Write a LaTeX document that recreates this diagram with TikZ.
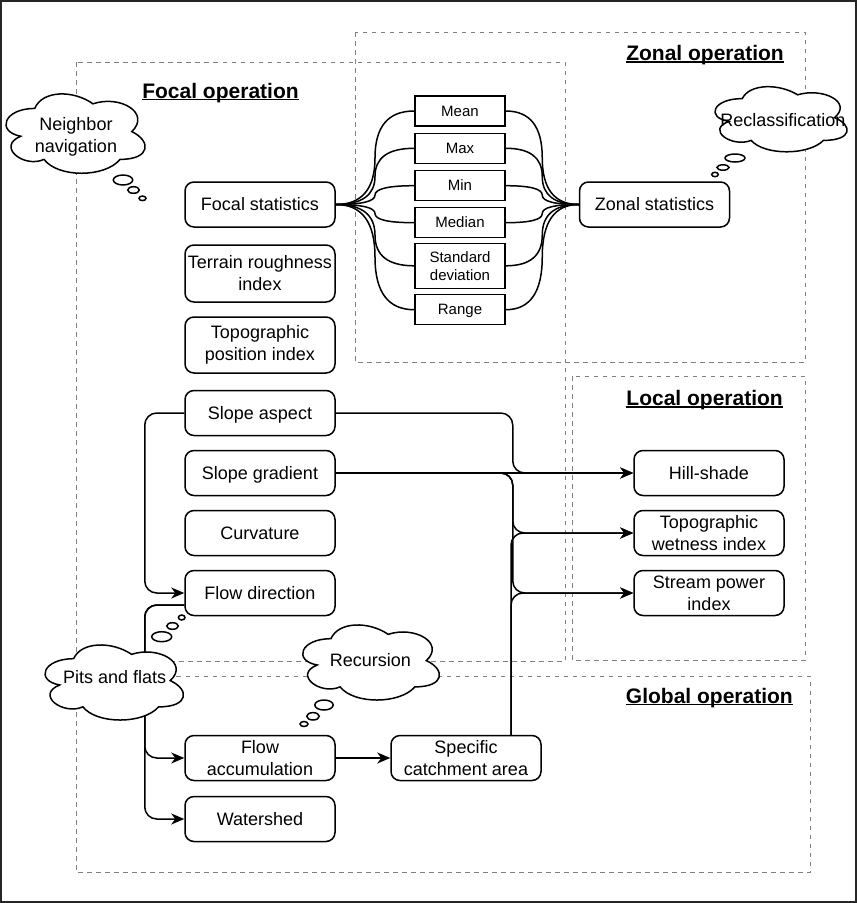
\documentclass[tikz,border=0pt]{standalone}
\usepackage{fontspec}
\setmainfont{Liberation Sans}
\usetikzlibrary{calc,arrows.meta}
\newcommand\ulbf[1]{\setbox0\hbox{#1}\rlap{\rule[-2pt]{\wd0}{1.5pt}}\box0}
\newcommand\dcloud[4]{%
 \begin{scope}[shift={(#1,#2)}, x=#3pt, y=-#4pt]
  \draw[cloudsty] (0.25,0.25) .. controls (0.05,0.25) and (0,0.5) .. (0.16,0.55)
   .. controls (0,0.66) and (0.18,0.9) .. (0.31,0.8)
   .. controls (0.4,1) and (0.7,1) .. (0.8,0.8)
   .. controls (1,0.8) and (1,0.6) .. (0.875,0.5)
   .. controls (1,0.3) and (0.8,0.1) .. (0.625,0.2)
   .. controls (0.5,0.05) and (0.3,0.05) .. (0.25,0.25) -- cycle;
 \end{scope}}
\tikzset{
 every node/.style={font=\fontsize{18}{22}\selectfont, text=black},
 box/.style={draw, line width=1.5pt, rounded corners=9pt, fill=white, minimum width=150pt, minimum height=45pt, inner sep=0pt, align=center},
 one/.style={text height=16.3pt, text depth=3.8pt},
 sone/.style={text height=13.6pt, text depth=3.2pt},
 sbox/.style={draw, line width=1.5pt, fill=white, minimum width=90pt, minimum height=30pt, inner sep=0pt, align=center, font=\fontsize{15}{18}\selectfont},
 region/.style={draw=black!50, dash pattern=on 4.5pt off 4.5pt, line width=1pt},
 conn/.style={line width=1.5pt, rounded corners=12pt, -{Stealth[length=13pt,width=11pt,inset=4pt]}},
 fan/.style={line width=1.5pt},
 cloudsty/.style={draw, line width=1.5pt, fill=white},
 ctext/.style={align=center, inner sep=0pt},
 titlesty/.style={font=\fontsize{21}{25}\selectfont\bfseries, inner sep=0pt},
 fanto/.style={to path={let \p1=(\tikztostart), \p2=(\tikztotarget), \p3=($(\p1)!0.5!(\p2)$) in
   .. controls ($(\p1)!2/3!(\x3,\y1)$) and ($(\p3)!2/3!(\x3,\y1)$) .. (\p3)
   .. controls ($(\p3)!2/3!(\x3,\y2)$) and ($(\p2)!2/3!(\x3,\y2)$) .. (\p2)}},
}
\begin{document}
\begin{tikzpicture}[x=1pt,y=-1pt]
\useasboundingbox (0,0) rectangle (857,903);
\draw[line width=1.2pt, black!85] (1,1) rectangle (856,902);
% regions
\draw[region] (76,62) rectangle (565,661);
\draw[region] (355,32) rectangle (805,362);
\draw[region] (572,376) rectangle (805,660);
\draw[region] (76,676) rectangle (810,872);
% titles
\node[titlesty, anchor=base] (tfocal) at (220.5,98) {\ulbf{Focal operation}};
\node[titlesty, anchor=base east] (tzonal) at (784,60.5) {\ulbf{Zonal operation}};
\node[titlesty, anchor=base east] (tlocal) at (783,405.7) {\ulbf{Local operation}};
\node[titlesty, anchor=base east] (tglobal) at (793,703) {\ulbf{Global operation}};
% boxes
\node[box, one] (fs) at (260,204.5) {Focal statistics};
\node[box, minimum height=57pt] (tri) at (260,273.5) {Terrain roughness\\index};
\node[box, minimum height=56pt] (tpi) at (260,345) {Topographic\\position index};
\node[box, one] (sa) at (260,413) {Slope aspect};
\node[box, one] (sg) at (260,473) {Slope gradient};
\node[box, one] (cu) at (260,533) {Curvature};
\node[box, one] (fd) at (260,593) {Flow direction};
\node[box] (fa) at (260,758) {Flow\\accumulation};
\node[box, one] (ws) at (260,819) {Watershed};
\node[box] (sca) at (466,758) {Specific\\catchment area};
\node[box, one] (zs) at (654.5,204.5) {Zonal statistics};
\node[box, one] (hs) at (709,473) {Hill-shade};
\node[box] (twi) at (709,533) {Topographic\\wetness index};
\node[box] (spi) at (709,593) {Stream power\\index};
\node[sbox, sone] (mean) at (460,111) {Mean};
\node[sbox, sone] (max) at (460,148.3) {Max};
\node[sbox, sone] (min) at (460,185.7) {Min};
\node[sbox, sone] (median) at (460,222.7) {Median};
\node[sbox, minimum height=45pt] (std) at (460,265.8) {Standard\\deviation};
\node[sbox, sone] (range) at (460,309.7) {Range};
% fan curves
\foreach \b in {mean,max,min,median,std,range}{
  \draw[fan] (fs.east) to[fanto] (\b.west);
  \draw[fan] (\b.east) to[fanto] (zs.west);
}
% connectors
\draw[conn] (sa.west) -- ++(-39.5,0) |- (fd.west);
\draw[conn] (sa.east) -- ++(177,0) |- (hs.west);
\draw[conn] (sg.east) -- (hs.west);
\draw[conn] (sg.east) -- ++(177,0) |- (twi.west);
\draw[conn] (sg.east) -- ++(177,0) |- (spi.west);
\draw[conn] ($(sca.north)+(45,0)$) |- (twi.west);
\draw[conn] ($(sca.north)+(45,0)$) |- (spi.west);
\draw[conn] (fa.east) -- (sca.west);
\draw[conn] ($(fd.west)+(0,12)$) -- ++(-39.5,0) |- (fa.west);
\draw[conn] ($(fd.west)+(0,12)$) -- ++(-39.5,0) |- (ws.west);
% clouds
\dcloud{-4.1}{85.3}{155.3}{92.6}
\draw[cloudsty] (123,180) ellipse [x radius=9.7pt, y radius=5pt];
\draw[cloudsty] (133.5,190) ellipse [x radius=5.8pt, y radius=3.3pt];
\draw[cloudsty] (142.5,198.3) ellipse [x radius=3.5pt, y radius=2.3pt];
\node[ctext] (nav) at (76,137) {Neighbor\\navigation};
\dcloud{705.4}{79.6}{147.5}{76}
\draw[cloudsty] (735,158) ellipse [x radius=10pt, y radius=4pt];
\draw[cloudsty] (723,167.5) ellipse [x radius=6pt, y radius=2.7pt];
\draw[cloudsty] (715,174.5) ellipse [x radius=3.3pt, y radius=2.2pt];
\node[ctext] (recl) at (782.8,119.8) {Reclassification};
\dcloud{35}{636.8}{154.5}{87.6}
\draw[cloudsty] (161.7,636.7) ellipse [x radius=10pt, y radius=5pt];
\draw[cloudsty] (172.5,626) ellipse [x radius=5.8pt, y radius=3.3pt];
\draw[cloudsty] (181.7,617.5) ellipse [x radius=3.3pt, y radius=2.5pt];
\node[ctext] (pits) at (114.7,677.5) {Pits and flats};
\dcloud{292.8}{616.8}{152.6}{87.6}
\draw[cloudsty] (324,705) ellipse [x radius=9.2pt, y radius=5pt];
\draw[cloudsty] (313,716.3) ellipse [x radius=6.3pt, y radius=3.7pt];
\draw[cloudsty] (304,724) ellipse [x radius=4pt, y radius=2.5pt];
\node[ctext] (recur) at (370.3,660) {Recursion};
\end{tikzpicture}
\end{document}
